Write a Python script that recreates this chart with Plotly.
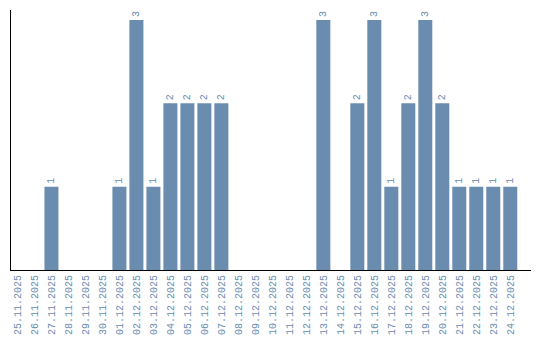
import plotly.graph_objects as go

dates = ["25.11.2025","26.11.2025","27.11.2025","28.11.2025","29.11.2025","30.11.2025",
         "01.12.2025","02.12.2025","03.12.2025","04.12.2025","05.12.2025","06.12.2025",
         "07.12.2025","08.12.2025","09.12.2025","10.12.2025","11.12.2025","12.12.2025",
         "13.12.2025","14.12.2025","15.12.2025","16.12.2025","17.12.2025","18.12.2025",
         "19.12.2025","20.12.2025","21.12.2025","22.12.2025","23.12.2025","24.12.2025"]
counts = [0,0,1,0,0,0,1,3,1,2,2,2,2,0,0,0,0,0,3,0,2,3,1,2,3,2,1,1,1,1]

color = "#6a8caf"
font_family = "Liberation Mono"
labels = [str(v) if v else "" for v in counts]

fig = go.Figure(go.Bar(
    x=dates, y=counts, marker_color=color, marker_line_width=0,
    text=labels, textposition="outside", textangle=-90,
    textfont=dict(family=font_family, size=10, color=color),
    cliponaxis=False,
))
fig.update_layout(
    width=540, height=340,
    margin=dict(l=11, r=9, t=10, b=70, autoexpand=False),
    paper_bgcolor="white", plot_bgcolor="white",
    bargap=0.176, showlegend=False,
    font=dict(family=font_family, size=10, color=color),
)
fig.update_xaxes(type="category", tickangle=-90, showline=True, linecolor="black",
                 linewidth=1, ticks="", showgrid=False, automargin=False,
                 range=[-0.38, 30.22],
                 tickfont=dict(family=font_family, size=10, color=color))
fig.update_yaxes(range=[0, 3.12], showline=True, linecolor="black", linewidth=1,
                 showticklabels=False, ticks="", showgrid=False, zeroline=False,
                 automargin=False)
fig.write_html("out.html")
